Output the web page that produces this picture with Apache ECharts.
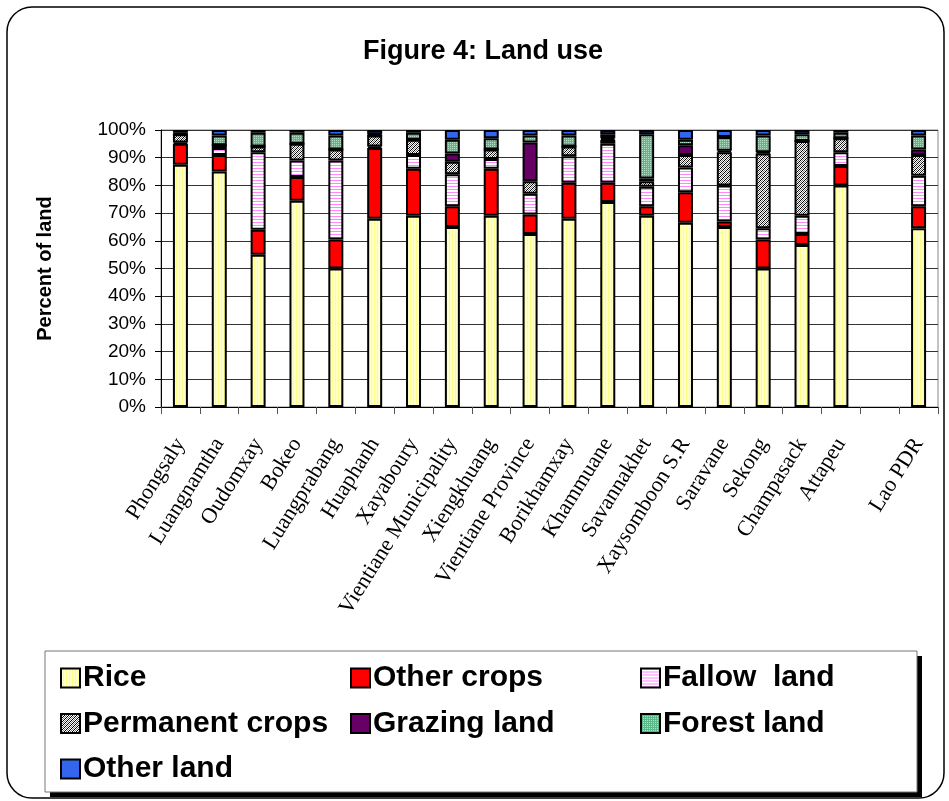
<!DOCTYPE html>
<html>
<head>
<meta charset="utf-8">
<script src="https://cdn.jsdelivr.net/npm/echarts@6/dist/echarts.min.js"></script>
<style>
  html, body { margin: 0; padding: 0; background: #fff; }
</style>
</head>
<body>
<div id="main" style="width:949px;height:801px"></div>
<script>
// categories (one empty slot before the national total)
const categories = ['Phongsaly', 'Luangnamtha', 'Oudomxay', 'Bokeo', 'Luangprabang', 'Huaphanh', 'Xayaboury',
  'Vientiane Municipality', 'Xiengkhuang', 'Vientiane Province', 'Borikhamxay', 'Khammuane', 'Savannakhet',
  'Xaysomboon S.R', 'Saravane', 'Sekong', 'Champasack', 'Attapeu', '', 'Lao PDR'];

// percent of land
const rice       = [87.5, 85, 55, 74.5, 50, 68, 69, 65, 69, 62.5, 68, 74, 69, 66.5, 65, 50, 58.5, 80, null, 64.5];
const otherCrops = [7.5, 6, 9, 8.5, 10.5, 25.5, 17, 7.5, 17, 7, 13, 7, 3.5, 11, 2, 10.5, 4, 7, null, 8];
const fallow     = [0.5, 2.5, 28, 6, 28.5, 0.5, 5, 11.5, 3.5, 7.5, 9.5, 14, 7, 9, 13, 4, 6.5, 5, null, 11];
const permanent  = [3, 1, 2, 6, 4, 4, 5.5, 4.5, 3.5, 4.5, 3.5, 1.5, 2, 4.5, 12, 27, 27, 5, null, 7.5];
const grazing    = [0, 0, 0, 0, 0, 0, 0, 3, 0, 14, 0, 0.5, 1, 3.5, 0.5, 0.5, 0, 0, null, 2];
const forest     = [0.5, 3.5, 5, 4, 5, 0.5, 2.5, 5, 4, 2.5, 4, 1.5, 16, 2, 5, 6, 2.5, 2, null, 5];
const otherLand  = [1, 2, 1, 1, 2, 1.5, 1, 3.5, 3, 2, 2, 1.5, 1.5, 3.5, 2.5, 2, 1.5, 1, null, 2];

const seriesNames = ['Rice', 'Other crops', 'Fallow  land', 'Permanent crops', 'Grazing land', 'Forest land', 'Other land'];
const seriesData = [rice, otherCrops, fallow, permanent, grazing, forest, otherLand];

// small canvas patterns like the old excel fills
function pattern(w, h, draw) {
  let c = document.createElement('canvas');
  c.width = w;
  c.height = h;
  let ctx = c.getContext('2d');
  draw(ctx);
  return { image: c, repeat: 'repeat' };
}

const riceFill = pattern(3, 1, ctx => {
  ctx.fillStyle = '#FFFFCC'; ctx.fillRect(0, 0, 3, 1);
  ctx.fillStyle = '#FFFF88'; ctx.fillRect(2, 0, 1, 1);
});
const fallowFill = pattern(1, 3, ctx => {
  ctx.fillStyle = '#FFFFFF'; ctx.fillRect(0, 0, 1, 3);
  ctx.fillStyle = '#FF88FF'; ctx.fillRect(0, 0, 1, 1);
});
const permanentFill = pattern(4, 4, ctx => {
  for (let x = 0; x < 4; x++) {
    for (let y = 0; y < 4; y++) {
      let k = (x + y) % 4;
      ctx.fillStyle = k === 0 ? '#000000' : (k === 2 ? '#777777' : '#FFFFFF');
      ctx.fillRect(x, y, 1, 1);
    }
  }
});
const forestFill = pattern(2, 2, ctx => {
  ctx.fillStyle = '#5BB888'; ctx.fillRect(0, 0, 2, 2);
  ctx.fillStyle = '#B0E0C4'; ctx.fillRect(0, 0, 1, 1);
});

const fills = [riceFill, '#FF0000', fallowFill, permanentFill, '#660066', forestFill, '#3366EE'];

let myChart = echarts.init(document.getElementById('main'));

let option = {
  backgroundColor: '#fff',
  animation: false,
  title: {
    text: 'Figure 4: Land use',
    left: 358,
    top: 33,
    textStyle: { fontFamily: 'Arial, Liberation Sans', fontSize: 27, fontWeight: 'bold', color: '#000' }
  },
  legend: [
    {
      data: ['Rice', 'Permanent crops', 'Other land'],
      left: 55
    },
    {
      data: ['Other crops', 'Grazing land'],
      left: 345
    },
    {
      data: ['Fallow  land', 'Forest land'],
      left: 635
    }
  ].map(l => Object.assign(l, {
    orient: 'vertical',
    top: 657,
    icon: 'rect',
    itemWidth: 19,
    itemHeight: 19,
    itemGap: 13.5,
    selectedMode: false,
    textStyle: { fontFamily: 'Arial, Liberation Sans', fontSize: 30, fontWeight: 'bold', color: '#000', lineHeight: 32, padding: [0, 0, 0, -2] }
  })),
  grid: {
    left: 161,
    right: 11,
    top: 130,
    bottom: 394,
    show: true,
    borderColor: '#888',
    borderWidth: 1
  },
  xAxis: {
    type: 'category',
    data: categories,
    axisLine: { lineStyle: { color: '#000', width: 1 } },
    axisTick: { show: true, length: 7, lineStyle: { color: '#555' } },
    axisLabel: {
      interval: 0,
      rotate: 58,
      margin: 33,
      fontFamily: 'Times New Roman, Liberation Serif',
      fontSize: 22,
      color: '#000'
    }
  },
  yAxis: {
    type: 'value',
    min: 0,
    max: 100,
    interval: 10,
    name: 'Percent of land',
    nameLocation: 'middle',
    nameGap: 106,
    nameRotate: 90,
    nameTextStyle: { fontFamily: 'Arial, Liberation Sans', fontSize: 20, fontWeight: 'bold', color: '#000' },
    axisLine: { show: true, lineStyle: { color: '#000', width: 1 } },
    axisTick: { show: true, length: 6, lineStyle: { color: '#000' } },
    axisLabel: {
      formatter: '{value}%',
      margin: 15,
      fontFamily: 'Arial, Liberation Sans',
      fontSize: 19,
      color: '#000'
    },
    splitLine: { lineStyle: { color: '#333', width: 1 } }
  },
  series: seriesNames.map((name, i) => ({
    name: name,
    type: 'bar',
    stack: 'land',
    barWidth: 15,
    data: seriesData[i],
    itemStyle: {
      color: fills[i],
      borderColor: '#000',
      borderWidth: 2
    }
  })),
  graphic: [
    // outer rounded frame
    {
      type: 'rect',
      z: 0,
      shape: { x: 7, y: 7, width: 937, height: 791, r: 25 },
      style: { fill: 'none', stroke: '#000', lineWidth: 1.5 }
    },
    // legend box with its black shadow
    {
      type: 'rect',
      z: 0,
      shape: { x: 50, y: 656, width: 872, height: 141 },
      style: { fill: '#000' }
    },
    {
      type: 'rect',
      z: 0,
      shape: { x: 45, y: 651, width: 872, height: 141 },
      style: { fill: '#fff', stroke: '#777', lineWidth: 1 }
    }
  ]
};

myChart.setOption(option);
</script>
</body>
</html>
